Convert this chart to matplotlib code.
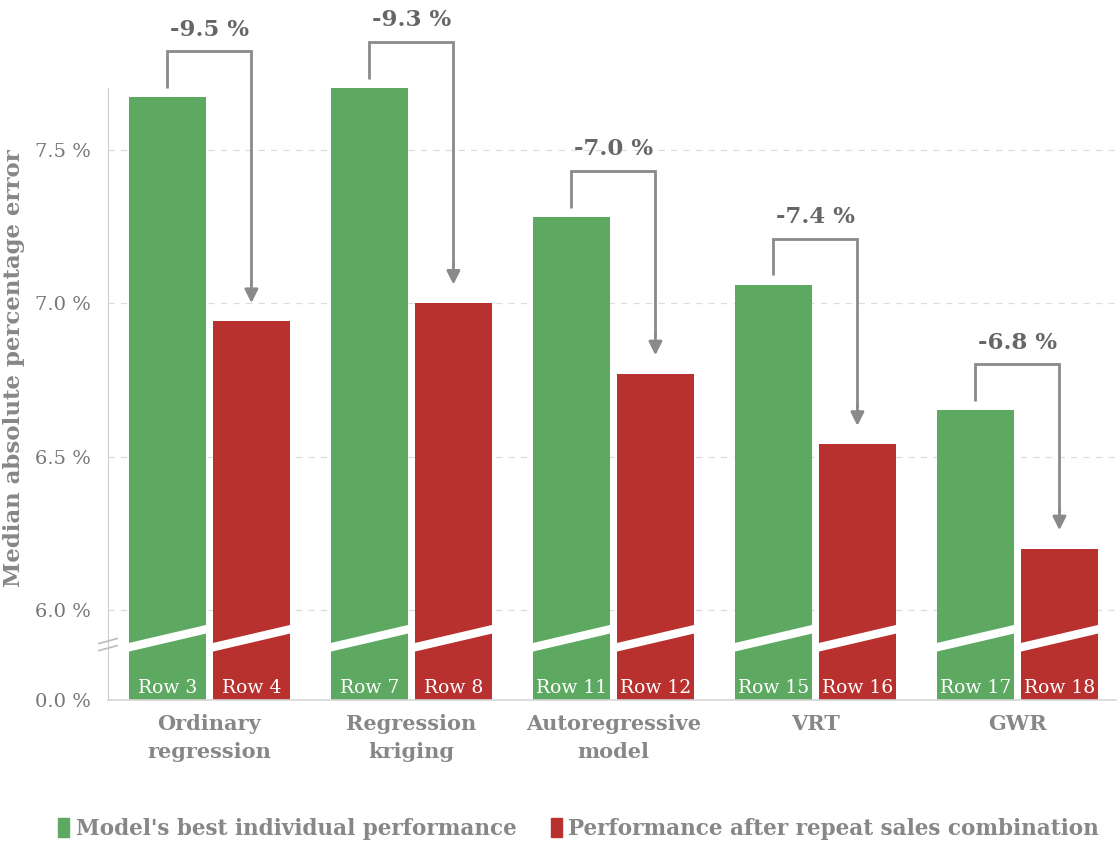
import numpy as np
import matplotlib
matplotlib.use("Agg")
import matplotlib.pyplot as plt
from matplotlib.patches import Polygon, Patch

# data
models = ["Ordinary\nregression", "Regression\nkriging", "Autoregressive\nmodel", "VRT", "GWR"]
best_individual = [7.67, 7.70, 7.28, 7.06, 6.65]
after_repeat = [6.94, 7.00, 6.77, 6.54, 6.20]
changes = ["-9.5 %", "-9.3 %", "-7.0 %", "-7.4 %", "-6.8 %"]
row_green = ["Row 3", "Row 7", "Row 11", "Row 15", "Row 17"]
row_red = ["Row 4", "Row 8", "Row 12", "Row 16", "Row 18"]
yticks = [6.0, 6.5, 7.0, 7.5]

GREEN = "#5ea962"
RED = "#b9312e"
GREY = "#878787"
ARROW = "#8a8a8a"

plt.rcParams["font.family"] = ["DejaVu Serif"]

fig = plt.figure(figsize=(11.17, 8.44), dpi=100)
# axes box in pixels: x 108..1117, y 0..700 (from top)
ax = fig.add_axes([108 / 1117, 1 - 700 / 844, 1 - 108 / 1117, 700 / 844])

base = 5.707          # where "0.0 %" sits (broken axis)
ax.set_ylim(base, 7.987)
ax.set_xlim(-0.502, 4.493)

x = np.arange(len(models))
w = 0.381
off = 0.208

ax.bar(x - off, np.array(best_individual) - base, w, bottom=base, color=GREEN, zorder=2)
ax.bar(x + off, np.array(after_repeat) - base, w, bottom=base, color=RED, zorder=2)

# white break band over each bar
yl, yr, half = 5.878, 5.938, 0.014
for xc in np.concatenate([x - off, x + off]):
    x0, x1 = xc - w / 2 - 0.005, xc + w / 2 + 0.005
    band = Polygon([(x0, yl - half), (x1, yr - half), (x1, yr + half), (x0, yl + half)],
                   closed=True, facecolor="white", edgecolor="none", zorder=3)
    ax.add_patch(band)

# row labels inside bars
for i in range(len(models)):
    ax.text(x[i] - off, base + 0.01, row_green[i], color="white", ha="center", va="bottom",
            fontsize=13.5, zorder=4)
    ax.text(x[i] + off, base + 0.01, row_red[i], color="white", ha="center", va="bottom",
            fontsize=13.5, zorder=4)

# grid lines
for t in yticks:
    ax.axhline(t, color="#dddddd", lw=0.9, ls=(0, (5, 5)), zorder=0)

# brackets with arrows
for i in range(len(models)):
    g, r = best_individual[i], after_repeat[i]
    top = g + 0.15
    xg, xr = x[i] - off, x[i] + off
    ax.plot([xg, xg, xr, xr], [g + 0.03, top, top, r + 0.12], color=ARROW, lw=2,
            solid_joinstyle="miter", solid_capstyle="butt", zorder=5)
    ax.annotate("", xy=(xr, r + 0.06), xytext=(xr, r + 0.13),
                arrowprops=dict(arrowstyle="-|>", color=ARROW, lw=2, mutation_scale=20,
                                shrinkA=0, shrinkB=0), zorder=5)
    ax.text(x[i], top + 0.035, changes[i], ha="center", va="bottom", fontsize=16.5,
            fontweight="bold", color="#666666")

# axes styling
for s in ["top", "right"]:
    ax.spines[s].set_visible(False)
ax.spines["left"].set_color("#cccccc")
ax.spines["left"].set_bounds(base, 7.70)
ax.spines["bottom"].set_color("#d5d5d5")
ax.spines["bottom"].set_linewidth(1.2)

ax.set_yticks([base] + yticks)
ax.set_yticklabels(["0.0 %"] + ["%.1f %%" % t for t in yticks])
ax.tick_params(axis="y", length=0, pad=12, labelsize=14, labelcolor="#777777")
ax.set_xticks(x)
ax.set_xticklabels(models)
ax.tick_params(axis="x", length=0, pad=10, labelsize=15, labelcolor=GREY)
for lab in ax.get_xticklabels():
    lab.set_fontweight("bold")
    lab.set_linespacing(1.5)

# axis break marks on the y axis
for yc in [5.899, 5.876]:
    ax.plot([-0.502 - 0.045, -0.502 + 0.045], [yc - 0.008, yc + 0.008], color="#bbbbbb",
            lw=1.2, clip_on=False, zorder=6)

fig.text(14 / 1117, 1 - 368 / 844, "Median absolute percentage error", rotation=90,
         ha="center", va="center", fontsize=16.5, fontweight="bold", color=GREY)

handles = [Patch(color=GREEN, label="Model's best individual performance"),
           Patch(color=RED, label="Performance after repeat sales combination")]
leg = fig.legend(handles=handles, loc="center", bbox_to_anchor=(0.518, 1 - 829 / 844),
                 ncol=2, frameon=False, handlelength=0.5, handleheight=1.0,
                 handletextpad=0.3, columnspacing=1.6,
                 prop={"size": 15.5, "weight": "bold"})
for t in leg.get_texts():
    t.set_color(GREY)

fig.savefig("out.png", dpi=100)
